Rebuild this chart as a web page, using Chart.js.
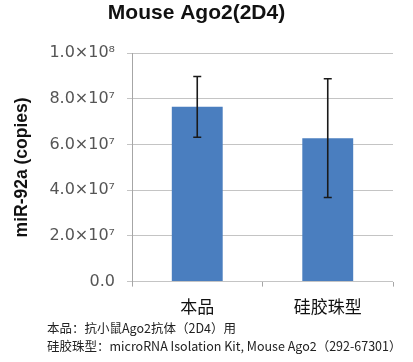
<!DOCTYPE html>
<html>
<head>
<meta charset="utf-8">
<script src="https://cdn.jsdelivr.net/npm/chart.js@4.4.0/dist/chart.umd.min.js"></script>
<style>
    html, body { margin: 0; padding: 0; background: #fff; }
    #wrap { position: relative; width: 413px; height: 362px; }
    .note { position: absolute; left: 47px; font: 12.5px "Noto Sans CJK SC", sans-serif; color: #222; white-space: nowrap; }
</style>
</head>
<body>
<div id="wrap">
    <canvas id="chart" width="413" height="362"></canvas>
    <div class="note" style="top: 318px;">本品：抗小鼠Ago2抗体（2D4）用</div>
    <div class="note" style="top: 336px;">硅胶珠型：microRNA Isolation Kit, Mouse Ago2（292-67301）</div>
</div>
<script>
const categories = ['本品', '硅胶珠型'];
const values = [7.65e7, 6.28e7];
const errors = [1.33e7, 2.6e7];
const tickLabels = {
    0: '0.0',
    2e7: '2.0×10⁷',
    4e7: '4.0×10⁷',
    6e7: '6.0×10⁷',
    8e7: '8.0×10⁷',
    1e8: '1.0×10⁸'
};

// error bars drawn through the scales
const errorBarPlugin = {
    id: 'errorBars',
    afterDatasetsDraw(chart) {
        const ctx = chart.ctx;
        const x = chart.scales.x;
        const y = chart.scales.y;
        ctx.save();
        ctx.strokeStyle = '#1a1a1a';
        ctx.lineWidth = 1.6;
        values.forEach((v, i) => {
            const px = x.getPixelForValue(i);
            const top = y.getPixelForValue(v + errors[i]);
            const bot = y.getPixelForValue(v - errors[i]);
            ctx.beginPath();
            ctx.moveTo(px, top);
            ctx.lineTo(px, bot);
            ctx.moveTo(px - 4, top);
            ctx.lineTo(px + 4, top);
            ctx.moveTo(px - 4, bot);
            ctx.lineTo(px + 4, bot);
            ctx.stroke();
        });
        ctx.restore();
    }
};

new Chart(document.getElementById('chart'), {
    type: 'bar',
    data: {
        labels: categories,
        datasets: [{
            data: values,
            backgroundColor: '#4a7ebf',
            borderWidth: 0,
            barPercentage: 0.39,
            categoryPercentage: 1
        }]
    },
    options: {
        responsive: false,
        animation: false,
        layout: { padding: { left: 0, right: 20, top: 0, bottom: 35 } },
        plugins: {
            legend: { display: false },
            tooltip: { enabled: false },
            title: {
                display: true,
                text: 'Mouse Ago2(2D4)',
                color: '#111',
                font: { family: 'Liberation Sans', size: 21, weight: 'bold' },
                padding: { top: 1, bottom: 27 }
            }
        },
        scales: {
            x: {
                grid: { offset: true, drawOnChartArea: false, drawTicks: true, tickLength: 5, color: '#a6a6a6' },
                border: { display: false },
                ticks: { color: '#111', padding: 10, font: { family: 'Noto Sans CJK SC', size: 17 } }
            },
            y: {
                min: 0,
                max: 1e8,
                afterFit: (scale) => { scale.width = 132; },
                grid: { color: '#c4c4c4', tickLength: 5 },
                border: { color: '#a6a6a6' },
                ticks: {
                    stepSize: 2e7,
                    padding: 12,
                    color: '#555',
                    font: { family: '"DejaVu Sans"', size: 16 },
                    callback: (val) => tickLabels[val] ?? ''
                },
                title: {
                    display: true,
                    text: 'miR-92a (copies)',
                    color: '#111',
                    font: { family: 'Liberation Sans', size: 17.5, weight: 'bold' },
                    padding: { top: 12 }
                }
            }
        }
    },
    plugins: [errorBarPlugin]
});
</script>
</body>
</html>
